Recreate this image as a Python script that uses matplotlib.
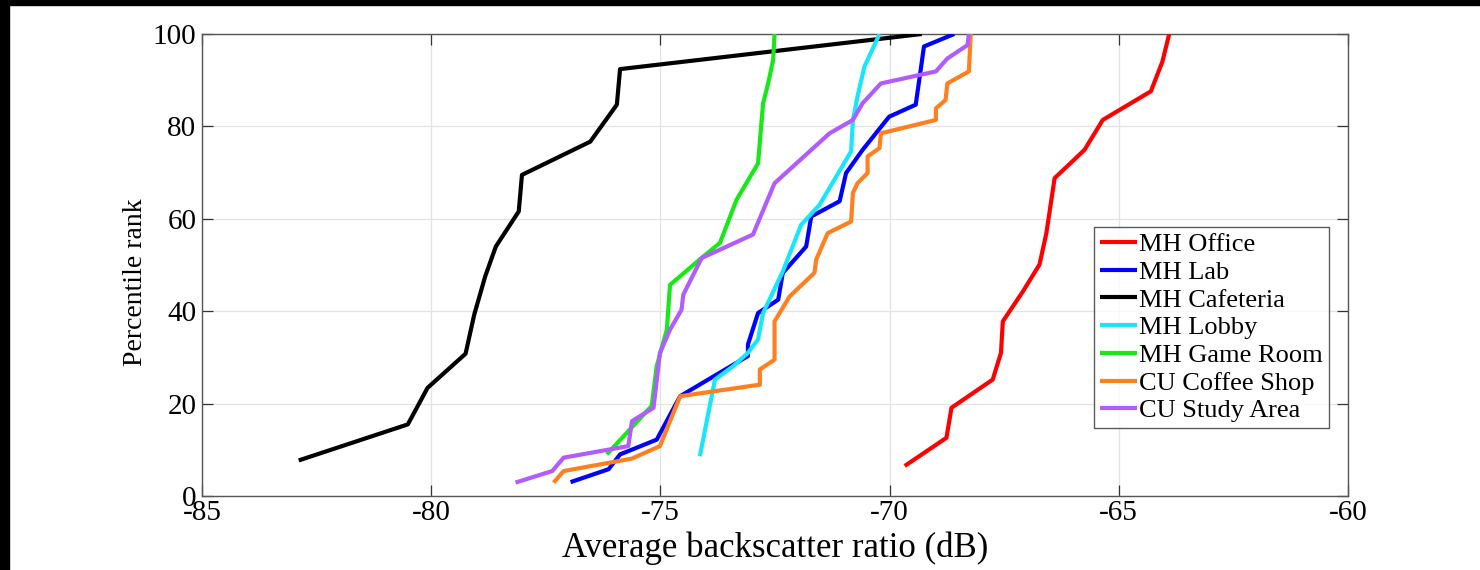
import matplotlib
matplotlib.use("Agg")
import matplotlib.pyplot as plt
from matplotlib.patches import Rectangle

# ---- data ----
office_x = [-69.67, -68.76, -68.65, -67.75, -67.57, -67.53, -67.09, -66.73, -66.58, -66.40, -65.75, -65.35, -64.30, -64.05, -63.90]
office_y = [6.5, 12.6, 19.1, 25.2, 31.0, 37.8, 44.3, 50.1, 56.9, 68.8, 74.9, 81.4, 87.6, 94.0, 100.0]

lab_x = [-76.96, -76.13, -75.88, -75.08, -74.57, -73.09, -73.09, -72.87, -72.43, -72.33, -71.82, -71.71, -71.09, -70.95, -70.59, -70.01, -69.43, -69.25, -68.59]
lab_y = [3.0, 5.8, 9.0, 12.2, 21.6, 30.3, 32.8, 39.6, 42.5, 48.3, 54.0, 60.5, 63.8, 69.9, 74.9, 82.1, 84.7, 97.3, 100.0]

caf_x = [-82.89, -80.51, -80.08, -79.25, -79.06, -78.82, -78.59, -78.09, -78.02, -76.53, -75.95, -75.88, -69.30]
caf_y = [7.7, 15.5, 23.4, 30.8, 39.3, 47.6, 54.0, 61.6, 69.5, 76.7, 84.7, 92.4, 100.0]

lobby_x = [-74.14, -73.81, -73.41, -73.09, -72.87, -72.76, -72.33, -71.93, -71.53, -70.84, -70.80, -70.70, -70.55, -70.22]
lobby_y = [8.6, 25.2, 28.1, 31.0, 33.9, 39.6, 48.6, 58.7, 63.0, 74.6, 81.4, 86.5, 92.9, 100.0]

game_x = [-76.17, -75.19, -75.08, -74.86, -74.79, -74.14, -73.70, -73.34, -72.87, -72.76, -72.65, -72.54, -72.51]
game_y = [9.0, 19.5, 28.1, 36.0, 45.7, 51.2, 54.8, 64.1, 72.0, 85.0, 89.3, 94.4, 100.0]

coffee_x = [-77.33, -77.11, -75.62, -75.01, -74.57, -72.83, -72.83, -72.51, -72.51, -72.18, -71.64, -71.60, -71.35, -70.84, -70.80, -70.70, -70.48, -70.48, -70.22, -70.19, -68.99, -68.99, -68.78, -68.74, -68.27, -68.23]
coffee_y = [2.9, 5.4, 8.1, 10.8, 21.6, 24.1, 27.4, 29.5, 37.8, 43.2, 48.3, 51.2, 56.9, 59.4, 65.6, 67.7, 69.9, 73.5, 75.3, 78.5, 81.4, 83.9, 85.7, 89.3, 91.9, 100.0]

study_x = [-78.16, -77.36, -77.11, -75.70, -75.62, -75.15, -75.01, -74.79, -74.54, -74.50, -74.10, -72.98, -72.51, -71.31, -70.80, -70.59, -70.19, -68.99, -68.74, -68.30, -68.27]
study_y = [2.9, 5.4, 8.3, 10.8, 16.2, 19.1, 31.0, 36.0, 40.3, 43.6, 51.5, 56.6, 67.7, 78.5, 81.4, 85.0, 89.3, 91.9, 94.7, 97.6, 100.0]

series_labels = ["MH Office", "MH Lab", "MH Cafeteria", "MH Lobby", "MH Game Room", "CU Coffee Shop", "CU Study Area"]
series_x = [office_x, lab_x, caf_x, lobby_x, game_x, coffee_x, study_x]
series_y = [office_y, lab_y, caf_y, lobby_y, game_y, coffee_y, study_y]
series_colors = ["#ff0000", "#0000ff", "#000000", "#18e6ff", "#18e818", "#ff8020", "#b05cff"]

xticks = [-85, -80, -75, -70, -65, -60]
yticks = [0, 20, 40, 60, 80, 100]

plt.rcParams['font.family'] = ['Liberation Serif', 'DejaVu Serif']

fig = plt.figure(figsize=(14.8, 5.7), dpi=100)
ax = fig.add_axes([202/1480, 1-496/570, (1348-202)/1480, (496-34)/570])

for xs, ys, c, lab in zip(series_x, series_y, series_colors, series_labels):
    ax.plot(xs, ys, color=c, lw=3.0, label=lab, solid_capstyle='butt', zorder=3)

ax.set_xlim(-85, -60)
ax.set_ylim(0, 100)
ax.set_xticks(xticks)
ax.set_yticks(yticks)
ax.set_xticklabels([str(t) for t in xticks])
ax.set_yticklabels([str(t) for t in yticks])
ax.grid(True, color='#e3e3e3', lw=0.9, zorder=0)
ax.tick_params(direction='in', length=8, width=0.9, color='#333333',
               top=True, right=True, labelsize=21)
ax.tick_params(axis='x', pad=3)
ax.tick_params(axis='y', pad=4)
for s in ax.spines.values():
    s.set_color('#555555')
    s.set_linewidth(1.0)

ax.set_xlabel("Average backscatter ratio (dB)", fontsize=25, labelpad=4)
ax.set_ylabel("Percentile rank", fontsize=20)
ax.yaxis.set_label_coords(-0.047, 0.463)

leg = ax.legend(loc='upper left', bbox_to_anchor=((1094-202)/1146, (496-227)/462),
                fontsize=19, frameon=True, fancybox=False, handlelength=1.4,
                handletextpad=0.1, borderpad=0.22, labelspacing=0.16,
                borderaxespad=0)
leg.get_frame().set_edgecolor('#333333')
leg.get_frame().set_linewidth(1.0)

# black borders at top and left of the reference picture
fig.add_artist(Rectangle((0, 1-5/570), 1, 5/570, transform=fig.transFigure, color='black', zorder=10))
fig.add_artist(Rectangle((0, 0), 9/1480, 1, transform=fig.transFigure, color='black', zorder=10))

fig.savefig("out.png", dpi=100)
